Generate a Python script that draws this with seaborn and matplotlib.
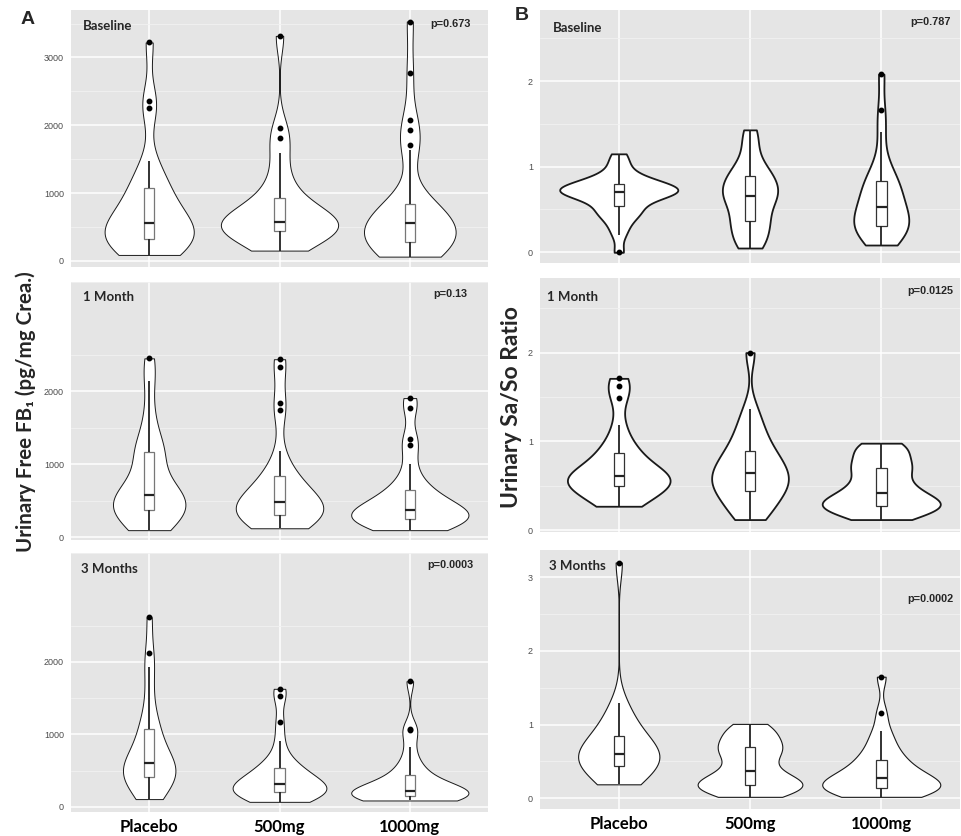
import numpy as np
import pandas as pd
import matplotlib
matplotlib.use("Agg")
import matplotlib.pyplot as plt
import seaborn as sns

groups = ["Placebo", "500mg", "1000mg"]
periods = ["Baseline", "1 Month", "3 Months"]

# A: urinary free FB1 (pg/mg creatinine), values estimated from the box stats / violin shapes
fb1_base_placebo = [88, 110, 150, 200, 260, 300, 330, 380, 420, 470, 520, 560, 570, 640, 720, 830,
                    950, 1060, 1100, 1250, 1473, 2258, 2356, 3221]
fb1_base_500 = [152, 200, 300, 380, 420, 430, 438, 470, 500, 520, 540, 560, 575, 585, 610, 650, 700,
                780, 900, 930, 1100, 1300, 1586, 1807, 1963, 3318]
fb1_base_1000 = [63, 100, 140, 180, 220, 250, 270, 290, 340, 380, 420, 470, 520, 560, 570, 620, 680,
                 740, 800, 830, 850, 1635, 1704, 1929, 2081, 2773, 3530]
fb1_m1_placebo = [97, 130, 200, 280, 340, 360, 400, 450, 500, 540, 560, 600, 650, 750, 900, 1100,
                  1190, 1200, 1400, 1700, 2146, 2453]
fb1_m1_500 = [123, 160, 200, 240, 270, 290, 300, 330, 360, 390, 420, 450, 470, 490, 520, 560, 620,
              700, 830, 850, 870, 1180, 1744, 1839, 2338, 2441]
fb1_m1_1000 = [97, 120, 150, 180, 210, 230, 240, 250, 270, 290, 300, 320, 340, 360, 385, 400, 430,
               470, 520, 600, 650, 660, 800, 1000, 1264, 1353, 1774, 1908]
fb1_m3_placebo = [108, 150, 250, 330, 370, 395, 430, 480, 520, 560, 580, 600, 650, 720, 800, 980,
                  1040, 1100, 1300, 1600, 1926, 2119, 2614]
fb1_m3_500 = [70, 90, 110, 140, 170, 190, 200, 215, 230, 250, 270, 290, 310, 330, 350, 380, 420, 470,
              520, 545, 600, 700, 909, 1172, 1528, 1628]
fb1_m3_1000 = [89, 100, 115, 125, 135, 140, 145, 150, 170, 180, 190, 200, 210, 215, 225, 240, 260,
               290, 330, 400, 440, 460, 560, 650, 824, 1056, 1075, 1732]

# B: urinary Sa/So ratio
ratio_base_placebo = [0.0, 0.20, 0.30, 0.38, 0.43, 0.47, 0.50, 0.52, 0.58, 0.62, 0.65, 0.67, 0.68,
                      0.69, 0.70, 0.71, 0.72, 0.73, 0.74, 0.75, 0.76, 0.78, 0.80, 0.82, 0.84, 0.86,
                      0.90, 0.98, 1.06, 1.15]
ratio_base_500 = [0.05, 0.10, 0.18, 0.27, 0.34, 0.38, 0.45, 0.55, 0.62, 0.65, 0.67, 0.72, 0.78, 0.82,
                  0.88, 0.92, 0.98, 1.10, 1.28, 1.43]
ratio_base_1000 = [0.085, 0.12, 0.18, 0.22, 0.26, 0.29, 0.31, 0.34, 0.38, 0.42, 0.46, 0.50, 0.55,
                   0.60, 0.66, 0.72, 0.78, 0.82, 0.85, 0.95, 1.10, 1.41, 1.66, 2.08]
ratio_m1_placebo = [0.27, 0.30, 0.35, 0.40, 0.45, 0.48, 0.50, 0.52, 0.55, 0.57, 0.59, 0.60, 0.62,
                    0.64, 0.67, 0.72, 0.80, 0.86, 0.90, 1.00, 1.18, 1.49, 1.62, 1.71]
ratio_m1_500 = [0.12, 0.18, 0.25, 0.32, 0.40, 0.44, 0.46, 0.50, 0.55, 0.60, 0.62, 0.66, 0.70, 0.75,
                0.80, 0.87, 0.90, 1.00, 1.10, 1.20, 1.37, 2.00]
ratio_m1_1000 = [0.12, 0.15, 0.18, 0.22, 0.25, 0.26, 0.28, 0.30, 0.32, 0.34, 0.36, 0.40, 0.44, 0.48,
                 0.52, 0.58, 0.65, 0.70, 0.72, 0.78, 0.84, 0.90, 0.95, 0.98]
ratio_m3_placebo = [0.19, 0.22, 0.28, 0.35, 0.40, 0.43, 0.47, 0.52, 0.55, 0.58, 0.60, 0.61, 0.65,
                    0.70, 0.75, 0.80, 0.86, 0.95, 1.05, 1.15, 1.30, 3.20]
ratio_m3_500 = [0.02, 0.05, 0.08, 0.12, 0.15, 0.18, 0.20, 0.22, 0.25, 0.28, 0.33, 0.40, 0.48, 0.55,
                0.62, 0.66, 0.70, 0.76, 0.82, 0.88, 0.95, 1.01]
ratio_m3_1000 = [0.02, 0.04, 0.06, 0.08, 0.10, 0.12, 0.13, 0.15, 0.17, 0.19, 0.21, 0.24, 0.26, 0.28,
                 0.30, 0.34, 0.38, 0.45, 0.50, 0.53, 0.60, 0.70, 0.80, 0.92, 1.16, 1.65]

fb1_pvals = ["p=0.673", "p=0.13", "p=0.0003"]
ratio_pvals = ["p=0.787", "p=0.0125", "p=0.0002"]


def make_df(a, b, c):
    return pd.DataFrame({"group": np.repeat(groups, [len(a), len(b), len(c)]),
                         "value": list(a) + list(b) + list(c)})


fb1_sets = [make_df(fb1_base_placebo, fb1_base_500, fb1_base_1000),
            make_df(fb1_m1_placebo, fb1_m1_500, fb1_m1_1000),
            make_df(fb1_m3_placebo, fb1_m3_500, fb1_m3_1000)]
ratio_sets = [make_df(ratio_base_placebo, ratio_base_500, ratio_base_1000),
              make_df(ratio_m1_placebo, ratio_m1_500, ratio_m1_1000),
              make_df(ratio_m3_placebo, ratio_m3_500, ratio_m3_1000)]

sns.set_style("darkgrid", {"axes.facecolor": "#E5E5E5", "grid.color": "white"})
plt.rcParams["font.family"] = ["Liberation Sans", "DejaVu Sans"]

W, H = 961, 836
fig = plt.figure(figsize=(W / 100, H / 100), dpi=100)


def px_axes(x0, y0, x1, y1):
    return fig.add_axes([x0 / W, 1 - y1 / H, (x1 - x0) / W, (y1 - y0) / H])


def draw(ax, df, ylim, major, minor, vlw, box_edge):
    ax.set_axisbelow(True)
    sns.violinplot(data=df, x="group", y="value", order=groups, ax=ax, cut=0,
                   bw_method="silverman", bw_adjust=0.65, density_norm="area", width=0.9,
                   inner=None, color="white", linecolor="#1a1a1a", linewidth=vlw, saturation=1)
    sns.boxplot(data=df, x="group", y="value", order=groups, ax=ax, width=0.08, color="white",
                linecolor=box_edge, linewidth=0.9, showcaps=False, saturation=1, fliersize=3.2,
                flierprops=dict(marker="o", markerfacecolor="black", markeredgecolor="black"),
                medianprops=dict(color="#222222", linewidth=1.6),
                whiskerprops=dict(color="#222222", linewidth=1.3))
    ax.set_xlim(-0.6, 2.6)
    ax.set_ylim(*ylim)
    ax.set_yticks(major)
    ax.set_yticks(minor, minor=True)
    ax.grid(which="major", color="white", linewidth=1.1)
    ax.grid(which="minor", axis="y", color="#F2F2F2", linewidth=0.6)
    ax.set_xlabel("")
    ax.set_ylabel("")
    for s in ax.spines.values():
        s.set_visible(False)
    ax.tick_params(axis="both", which="major", length=3, width=0.6, color="#333333",
                   labelsize=6.5, labelcolor="#4D4D4D", pad=2)
    ax.tick_params(which="minor", length=0)


left_rows = [(10, 267), (282, 540), (553, 812)]
right_rows = [(10, 263), (278, 532), (550, 809)]
fb1_ylims = [(-90, 3700), (-38, 2930), (-70, 2935)]
ratio_ylims = [(-0.125, 2.83), (-0.02, 2.84), (-0.145, 3.37)]
ratio_major = [[0, 1, 2], [0, 1, 2], [0, 1, 2, 3]]
ratio_minor = [[0.5, 1.5, 2.5], [0.5, 1.5, 2.5], [0.5, 1.5, 2.5]]

for i in range(3):
    ax = px_axes(71, left_rows[i][0], 488, left_rows[i][1])
    major = [0, 1000, 2000, 3000] if i == 0 else [0, 1000, 2000]
    draw(ax, fb1_sets[i], fb1_ylims[i], major, [500, 1500, 2500, 3500], 0.7, "#777777")
    if i < 2:
        ax.set_xticklabels([])
    else:
        ax.set_xticklabels(groups, fontsize=12, fontweight="bold", color="black",
                           family=["Lato", "DejaVu Sans"])

    ax = px_axes(540, right_rows[i][0], 960, right_rows[i][1])
    draw(ax, ratio_sets[i], ratio_ylims[i], ratio_major[i], ratio_minor[i],
         1.3 if i < 2 else 0.8, "#333333")
    if i < 2:
        ax.set_xticklabels([])
    else:
        ax.set_xticklabels(groups, fontsize=12, fontweight="bold", color="black",
                           family=["Lato", "DejaVu Sans"])


def ftext(x, y, s, **kw):
    fig.text(x / W, 1 - y / H, s, **kw)


lab = dict(fontsize=9.5, fontweight="bold", family=["Lato", "DejaVu Sans"], va="center")
pv = dict(fontsize=7.8, fontweight="bold", va="center", ha="right")

left_lab_pos = [(83, 26), (83, 297), (81, 569)]
right_lab_pos = [(553, 28), (547, 297), (549, 566)]
left_p_pos = [(471, 24), (467, 294), (473, 565)]
right_p_pos = [(951, 22), (953, 291), (953, 599)]
for i in range(3):
    ftext(*left_lab_pos[i], periods[i], **lab)
    ftext(*right_lab_pos[i], periods[i], **lab)
    ftext(*left_p_pos[i], fb1_pvals[i], **pv)
    ftext(*right_p_pos[i], ratio_pvals[i], **pv)

ftext(28, 20, "A", fontsize=14, fontweight="bold", va="center", ha="center")
ftext(522, 16, "B", fontsize=14, fontweight="bold", va="center", ha="center")

ftext(26, 412, "Urinary Free FB\u2081 (pg/mg Crea.)", rotation=90, fontsize=14.8,
      fontweight="bold", family=["Lato", "DejaVu Sans"], ha="center", va="center")
ftext(512, 407, "Urinary Sa/So Ratio", rotation=90, fontsize=16.5, fontweight="bold",
      family=["Lato", "DejaVu Sans"], ha="center", va="center")

fig.savefig("out.png", dpi=100, facecolor="white")
